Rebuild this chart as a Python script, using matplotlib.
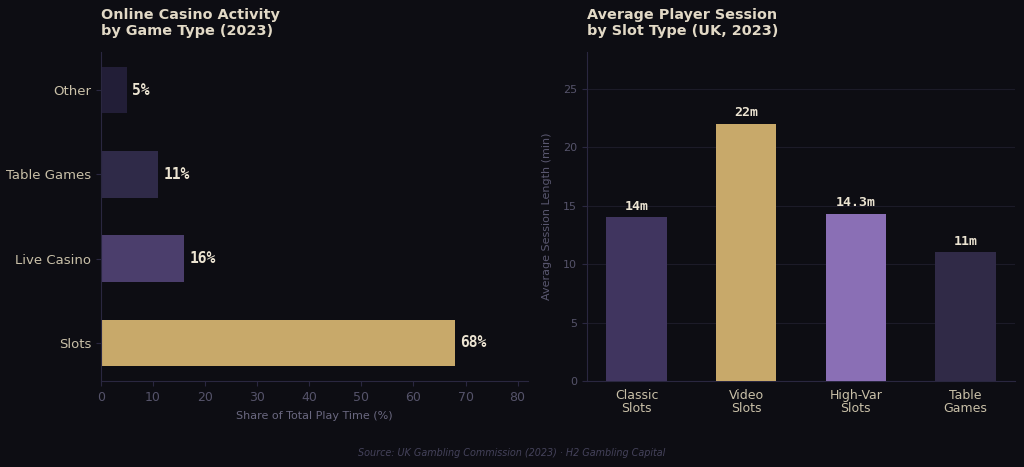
import matplotlib.pyplot as plt
import numpy as np

# data
game_types = ["Slots", "Live Casino", "Table Games", "Other"]
play_share = [68, 16, 11, 5]
game_colors = ["#c8a96a", "#4b3e6c", "#2f2a48", "#221e37"]

slot_types = ["Classic\nSlots", "Video\nSlots", "High-Var\nSlots", "Table\nGames"]
session_min = [14, 22, 14.3, 11]
session_labels = ["14m", "22m", "14.3m", "11m"]
slot_colors = ["#40355f", "#c8a96a", "#8a6fb5", "#302a47"]

bg = "#0d0d13"
spine_c = "#2a2740"
tick_c = "#55536a"
label_c = "#c9c0a8"
title_c = "#e2d9c6"
value_c = "#ece4d2"

plt.rcParams["font.family"] = "DejaVu Sans"

fig = plt.figure(figsize=(10.24, 4.67), dpi=100, facecolor=bg)
ax1 = fig.add_axes([101/1024, 1 - 381/467, 427/1024, 329/467], facecolor=bg)
ax2 = fig.add_axes([587/1024, 1 - 381/467, 428/1024, 329/467], facecolor=bg)

#%% left: horizontal bars
y = np.arange(len(game_types))
ax1.barh(y, play_share, height=0.55, color=game_colors)
ax1.set_yticks(y)
ax1.set_yticklabels(game_types, color=label_c, fontsize=9.5)
ax1.set_xlim(0, 82)
ax1.set_xticks(range(0, 81, 10))
for yi, v in zip(y, play_share):
    ax1.text(v + 1, yi, f"{v}%", va="center", ha="left", color=value_c,
             fontsize=10.5, fontweight="bold", family="DejaVu Sans Mono")
ax1.set_xlabel("Share of Total Play Time (%)", color="#6a6880", fontsize=8, labelpad=5)
ax1.set_title("Online Casino Activity\nby Game Type (2023)", loc="left",
              color=title_c, fontsize=10.4, fontweight="bold", pad=12)

#%% right: vertical bars
x = np.arange(len(slot_types))
ax2.bar(x, session_min, width=0.55, color=slot_colors, zorder=3)
ax2.set_xticks(x)
ax2.set_xticklabels(slot_types, color=label_c, fontsize=9, linespacing=0.95)
ax2.set_ylim(0, 28.16)
ax2.set_yticks(range(0, 26, 5))
ax2.grid(axis="y", color="#1c1b28", linewidth=0.8, zorder=0)
for xi, v, lab in zip(x, session_min, session_labels):
    ax2.text(xi, v + 0.4, lab, ha="center", va="bottom", color=value_c,
             fontsize=9.5, fontweight="bold", family="DejaVu Sans Mono")
ax2.set_ylabel("Average Session Length (min)", color="#5a5870", fontsize=8, labelpad=8)
ax2.set_title("Average Player Session\nby Slot Type (UK, 2023)", loc="left",
              color=title_c, fontsize=10.4, fontweight="bold", pad=12)

for ax in (ax1, ax2):
    for s in ("top", "right"):
        ax.spines[s].set_visible(False)
    for s in ("left", "bottom"):
        ax.spines[s].set_color(spine_c)
    ax.tick_params(colors=spine_c, labelsize=9)
    ax.set_axisbelow(True)
ax1.tick_params(axis="x", labelcolor=tick_c)
ax1.tick_params(axis="y", labelcolor=label_c, labelsize=9.5)
ax2.tick_params(axis="y", labelcolor=tick_c, labelsize=8)
ax2.tick_params(axis="x", labelcolor=label_c, length=0, pad=6)

fig.text(0.5, 1 - 453/467, "Source: UK Gambling Commission (2023) · H2 Gambling Capital",
         ha="center", va="center", color="#44425a", fontsize=6.9, style="italic")

fig.savefig("out.png", dpi=100, facecolor=bg)
